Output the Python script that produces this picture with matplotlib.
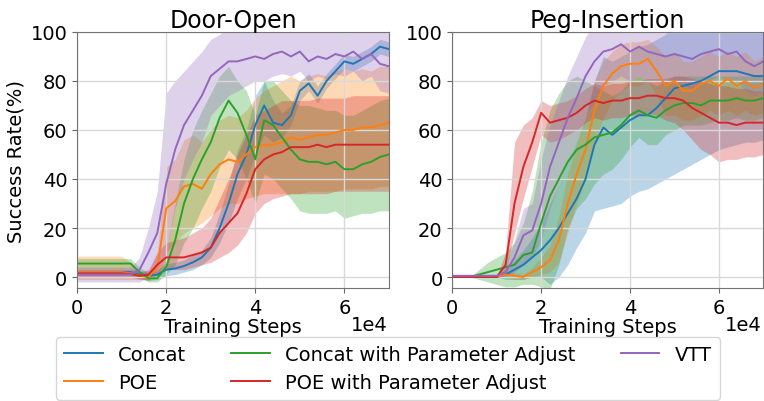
import matplotlib
matplotlib.use('Agg')
import matplotlib.pyplot as plt
import numpy as np

# training steps (units of 1e4)
steps = [0.0, 0.2, 0.4, 0.6, 0.8, 1.0, 1.2, 1.4, 1.6, 1.8, 2.0, 2.2, 2.4, 2.6, 2.8, 3.0, 3.2, 3.4,
         3.6, 3.8, 4.0, 4.2, 4.4, 4.6, 4.8, 5.0, 5.2, 5.4, 5.6, 5.8, 6.0, 6.2, 6.4, 6.6, 6.8, 7.0]

names = ['Concat', 'POE', 'Concat with Parameter Adjust', 'POE with Parameter Adjust', 'VTT']
colors = ['#1f77b4', '#ff7f0e', '#2ca02c', '#d62728', '#9467bd']

# ---- Door-Open ----
door_concat = [2, 2, 2, 2, 2, 2, 2, 1, 0.5, 1, 3, 3.5, 4.5, 6, 8, 12, 20, 30, 42, 50, 62, 70, 63, 62, 66, 76, 79, 74, 80, 84, 88, 87, 89, 91, 94, 93]
door_concat_lo = [0.5, 0.5, 0.5, 0.5, 0.5, 0.5, 0.5, -0.5, -1.5, -1, 0.5, 1, 2, 3, 5, 8, 14, 22, 32, 40, 50, 58, 55, 57, 62, 72, 76, 71, 77, 81, 85, 84, 86, 88, 91, 90]
door_concat_hi = [3.5, 3.5, 3.5, 3.5, 3.5, 3.5, 3.5, 2.5, 2.5, 3, 5.5, 6, 7, 9, 11, 16, 26, 38, 52, 60, 74, 80, 72, 67, 70, 80, 83, 78, 83, 87, 91, 90, 92, 94, 97, 96]

door_poe = [2, 2, 2, 2, 2, 2, 1.5, 0.5, 0, 4, 28, 31, 37, 38, 36, 42, 46, 48, 47, 50, 53, 54, 54, 55, 57, 56, 57, 58, 58, 59, 60, 60, 61, 61, 62, 63]
door_poe_lo = [-1, -1, -1, -1, -1, -1, -1, -1, -1.5, 0, 10, 14, 18, 20, 22, 25, 28, 30, 30, 32, 33, 34, 34, 34, 34, 34, 35, 35, 35, 35, 36, 36, 36, 36, 37, 37]
door_poe_hi = [8.5, 8.5, 8.5, 8.5, 8.5, 8.5, 6, 2, 2, 10, 45, 48, 56, 58, 55, 60, 64, 66, 65, 68, 73, 76, 78, 80, 82, 80, 82, 83, 82, 84, 85, 84, 85, 84, 86, 86]

door_concat_pa = [5.5, 5.5, 5.5, 5.5, 5.5, 5.5, 5.5, 2, -0.5, -0.5, 4, 15, 30, 40, 48, 55, 65, 72, 67, 58, 48, 64, 62, 57, 52, 48, 47, 47, 46, 47, 44, 44, 46, 47, 49, 50]
door_concat_pa_lo = [3.5, 3.5, 3.5, 3.5, 3.5, 3.5, 3.5, 0, -2, -2, 1, 5, 14, 20, 28, 35, 45, 52, 48, 40, 30, 42, 40, 36, 32, 27, 26, 26, 26, 27, 24, 25, 26, 26, 27, 27]
door_concat_pa_hi = [7.5, 7.5, 7.5, 7.5, 7.5, 7.5, 7.5, 4, 1.5, 1.5, 10, 30, 48, 60, 68, 75, 82, 86, 80, 76, 66, 80, 80, 76, 72, 70, 70, 69, 68, 68, 66, 66, 68, 70, 72, 73]

door_poe_pa = [1.5, 1.5, 1.5, 1.5, 1.5, 1.5, 1.2, 0.5, 1, 5, 8, 8, 8, 9, 10, 12, 18, 22, 26, 34, 44, 48, 50, 51, 53, 53, 53, 54, 53, 54, 54, 54, 54, 54, 54, 54]
door_poe_pa_lo = [0, 0, 0, 0, 0, 0, 0, -1, -1, 1, 3, 3, 3, 4, 5, 6, 8, 10, 13, 18, 26, 30, 32, 33, 34, 34, 34, 34, 34, 35, 35, 35, 35, 35, 35, 35]
door_poe_pa_hi = [3, 3, 3, 3, 3, 3, 3, 2, 3, 10, 14, 15, 16, 18, 20, 24, 32, 40, 50, 58, 66, 68, 70, 72, 72, 72, 72, 73, 73, 73, 73, 74, 74, 74, 74, 74]

door_vtt = [1, 1, 1, 1, 1, 1, 1, 3, 10, 18, 38, 52, 62, 68, 74, 82, 85, 88, 88, 89, 90, 89, 91, 92, 90, 92, 88, 90, 89, 91, 90, 92, 89, 91, 87, 86]
door_vtt_lo = [-2, -2, -2, -2, -2, -2, -2, -2, 0, 2, 10, 28, 40, 48, 55, 66, 70, 74, 76, 78, 80, 80, 82, 83, 82, 84, 80, 82, 81, 83, 82, 84, 80, 82, 76, 75]
door_vtt_hi = [4, 4, 4, 4, 4, 4, 4, 8, 20, 35, 75, 80, 84, 88, 92, 97, 99, 103, 103, 103, 103, 103, 103, 103, 103, 103, 103, 103, 103, 103, 103, 103, 103, 103, 103, 103]

# ---- Peg-Insertion ----
peg_concat = [0, 0, 0, 0, 0, 0, 1, 3, 5, 8, 11, 15, 20, 26, 32, 40, 54, 61, 58, 61, 64, 66, 66, 69, 73, 77, 78, 79, 80, 82, 84, 84, 84, 83, 82, 82]
peg_concat_lo = [0, 0, 0, 0, 0, 0, -1, -1, -1, 0, 0, -3, 0, 5, 12, 18, 27, 28, 29, 30, 33, 35, 36, 38, 40, 42, 44, 46, 48, 50, 52, 53, 54, 55, 55, 56]
peg_concat_hi = [0.5, 0.5, 0.5, 0.5, 0.5, 0.5, 3, 7, 11, 16, 22, 30, 38, 48, 56, 65, 80, 90, 88, 90, 92, 94, 95, 97, 99, 103, 103, 103, 103, 103, 103, 103, 103, 103, 103, 103]

peg_poe = [0, 0, 0, 0, 0, 0, 1, 0.5, 0, 2, 4, 7, 15, 30, 42, 52, 68, 78, 83, 86, 87, 87, 89, 84, 78, 80, 76, 76, 79, 80, 78, 81, 78, 80, 77, 79]
peg_poe_lo = [0, 0, 0, 0, 0, 0, 0, -1, -1, 0, 1, 2, 6, 18, 30, 40, 55, 65, 72, 76, 78, 78, 80, 74, 66, 66, 64, 64, 66, 68, 66, 68, 66, 68, 66, 67]
peg_poe_hi = [0.5, 0.5, 0.5, 0.5, 0.5, 0.5, 2, 2, 1, 4, 8, 13, 25, 42, 55, 65, 80, 88, 92, 95, 96, 96, 97, 94, 90, 92, 88, 88, 90, 92, 90, 92, 90, 92, 88, 90]

peg_concat_pa = [0, 0, 0, 1, 2, 3, 4, 5, 9, 10, 22, 33, 40, 47, 52, 54, 57, 58, 59, 62, 66, 68, 66, 65, 68, 70, 71, 71, 70, 72, 72, 72, 73, 72, 72, 73]
peg_concat_pa_lo = [0, 0, 0, -1, -2, -3, -4, -4, -3, -3, -4, -5, 5, 20, 28, 32, 38, 42, 44, 48, 53, 57, 54, 54, 58, 60, 62, 62, 62, 63, 64, 64, 65, 64, 64, 65]
peg_concat_pa_hi = [0, 0, 0, 3, 6, 8, 10, 14, 22, 35, 55, 68, 75, 80, 82, 80, 78, 76, 74, 76, 80, 82, 80, 78, 80, 82, 82, 82, 82, 82, 82, 82, 82, 82, 82, 82]

peg_poe_pa = [0, 0, 0, 0, 0, 0, 5, 30, 45, 55, 67, 63, 64, 65, 67, 70, 72, 71, 72, 72, 73, 73, 74, 74, 73, 73, 72, 69, 67, 65, 63, 63, 62, 63, 63, 63]
peg_poe_pa_lo = [0, 0, 0, 0, 0, 0, 2, 18, 32, 45, 58, 55, 56, 58, 60, 63, 65, 64, 65, 65, 66, 66, 67, 66, 64, 63, 60, 56, 52, 50, 47, 48, 48, 49, 49, 50]
peg_poe_pa_hi = [0, 0, 0, 0, 0, 0, 10, 55, 62, 65, 72, 70, 71, 72, 74, 77, 79, 78, 79, 79, 80, 80, 81, 81, 81, 82, 82, 81, 80, 79, 78, 78, 77, 77, 76, 76]

peg_vtt = [0.5, 0.5, 0.5, 0.5, 0.5, 0.5, 2, 8, 17, 19, 30, 45, 55, 65, 73, 82, 88, 92, 93, 95, 92, 94, 92, 91, 90, 91, 90, 89, 91, 92, 93, 91, 92, 88, 86, 88]
peg_vtt_lo = [0, 0, 0, 0, 0, 0, 0, 2, 5, 8, 15, 28, 38, 48, 56, 65, 72, 78, 80, 82, 80, 82, 80, 80, 78, 80, 78, 77, 79, 80, 82, 80, 80, 76, 74, 76]
peg_vtt_hi = [1, 1, 1, 1, 1, 1, 5, 15, 28, 30, 48, 62, 72, 82, 90, 98, 103, 103, 103, 103, 103, 103, 103, 103, 103, 103, 103, 103, 103, 103, 103, 103, 103, 103, 103, 103]

panels = [
    ('Door-Open', [(door_concat, door_concat_lo, door_concat_hi),
                   (door_poe, door_poe_lo, door_poe_hi),
                   (door_concat_pa, door_concat_pa_lo, door_concat_pa_hi),
                   (door_poe_pa, door_poe_pa_lo, door_poe_pa_hi),
                   (door_vtt, door_vtt_lo, door_vtt_hi)]),
    ('Peg-Insertion', [(peg_concat, peg_concat_lo, peg_concat_hi),
                       (peg_poe, peg_poe_lo, peg_poe_hi),
                       (peg_concat_pa, peg_concat_pa_lo, peg_concat_pa_hi),
                       (peg_poe_pa, peg_poe_pa_lo, peg_poe_pa_hi),
                       (peg_vtt, peg_vtt_lo, peg_vtt_hi)]),
]

fs = 14
fig = plt.figure(figsize=(7.64, 4.02), dpi=100)
axes = [fig.add_axes([0.101, 0.281, 0.408, 0.637]),
        fig.add_axes([0.592, 0.281, 0.407, 0.637])]

for ax, (title, series) in zip(axes, panels):
    for (m, lo, hi), c, n in zip(series, colors, names):
        ax.fill_between(steps, lo, hi, color=c, alpha=0.3, linewidth=0)
        ax.plot(steps, m, color=c, lw=1.4, label=n)
    ax.set_xlim(0, 7)
    ax.set_ylim(-4.5, 100)
    ax.set_yticks([0, 20, 40, 60, 80, 100])
    ax.set_xticks([0, 2, 4, 6])
    ax.tick_params(labelsize=fs, color='0.4')
    ax.grid(True, color='0.85', lw=1)
    for s in ax.spines.values():
        s.set_color('0.45')
    ax.set_title(title, fontsize=17, pad=2)
    ax.set_xlabel('Training Steps', fontsize=fs, labelpad=0)
    # scale marker like the sci offset text
    ax.text(0.995, -0.165, '1e4', transform=ax.transAxes, ha='right', va='baseline', fontsize=fs)

axes[0].set_ylabel('Success Rate(%)', fontsize=fs)

h, l = axes[0].get_legend_handles_labels()
fig.legend(h, l, loc='lower left', bbox_to_anchor=(0.072, 0.0), ncol=3, fontsize=fs,
           handlelength=2.0, columnspacing=2.3, borderaxespad=0.05)

plt.savefig('out.png')
